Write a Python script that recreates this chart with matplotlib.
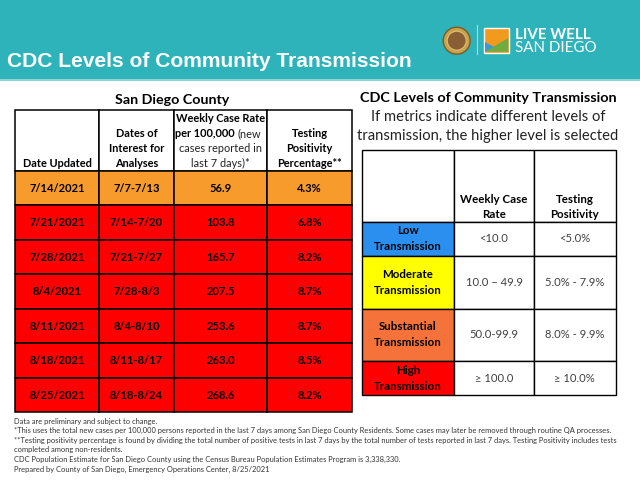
"""San Diego County weekly case rates vs. CDC levels of community transmission (slide recreation)."""

import matplotlib

matplotlib.use("Agg")
import matplotlib.pyplot as plt
from matplotlib.patches import Circle, Polygon, Rectangle
import numpy as np

plt.rcParams["font.family"] = ["Lato", "DejaVu Sans"]

# ---- data -------------------------------------------------------------
DATES_UPDATED = ["7/14/2021", "7/21/2021", "7/28/2021", "8/4/2021", "8/11/2021", "8/18/2021", "8/25/2021"]
DATES_OF_INTEREST = ["7/7-7/13", "7/14-7/20", "7/21-7/27", "7/28-8/3", "8/4-8/10", "8/11-8/17", "8/18-8/24"]
CASE_RATE = [56.9, 103.8, 165.7, 207.5, 253.6, 263.0, 268.6]
POSITIVITY = [4.3, 6.8, 8.2, 8.7, 8.7, 8.5, 8.2]

LEVEL_NAMES = ["Low", "Moderate", "Substantial", "High"]
CASE_RATE_RANGES = ["<10.0", "10.0 \u2013 49.9", "50.0-99.9", "\u2265 100.0"]
POSITIVITY_RANGES = ["<5.0%", "5.0% - 7.9%", "8.0% - 9.9%", "\u2265 10.0%"]
CASE_RATE_CUTS = [10.0, 50.0, 100.0]
POSITIVITY_CUTS = [5.0, 8.0, 10.0]

FOOTNOTES = [
    "Data are preliminary and subject to change.",
    "*This uses the total new cases per 100,000 persons reported in the last 7 days among San Diego County "
    "Residents. Some cases may later be removed through routine QA processes.",
    "**Testing positivity percentage is found by dividing the total number of positive tests in last 7 days by "
    "the total number of tests reported in last 7 days. Testing Positivity includes tests",
    "completed among non-residents.",
    "CDC Population Estimate for San Diego County using the Census Bureau Population Estimates Program is 3,338,330.",
    "Prepared by County of San Diego, Emergency Operations Center, 8/25/2021",
]

# ---- style ------------------------------------------------------------
TEAL = "#2fb3bb"
LEGEND_COLORS = ["#2b8ff0", "#ffff00", "#f5733b", "#ff0000"]
ROW_COLORS = {2: "#f89b2d", 3: "#ff0000"}
LEFT_COLS = [15, 99, 174, 267, 352]
LEFT_ROWS = [110] + list(np.linspace(171, 412.3, len(DATES_UPDATED) + 1))
RIGHT_COLS = [361.7, 454, 534, 615.7]
RIGHT_ROWS = [150, 221.7, 256, 308.7, 361.3, 395]
HEADER_FS = 7.9
BODY_FS = 8.0


def transmission_level(rate, positivity):
    by_rate = int(np.searchsorted(CASE_RATE_CUTS, rate, side="right"))
    by_pos = int(np.searchsorted(POSITIVITY_CUTS, positivity, side="right"))
    return max(by_rate, by_pos)


def cell(ax, x0, x1, y0, y1, face, lw=1.1):
    ax.add_patch(Rectangle((x0, y0), x1 - x0, y1 - y0, facecolor=face, edgecolor="black", linewidth=lw))


fig = plt.figure(figsize=(6.4, 4.8), dpi=100)
ax = fig.add_axes([0, 0, 1, 1])
ax.set_xlim(0, 640)
ax.set_ylim(480, 0)
ax.axis("off")

# ---- header band -------------------------------------------------------
ax.add_patch(Rectangle((0, 0), 640, 78.5, facecolor=TEAL, edgecolor="none"))
ax.add_patch(Rectangle((0, 78.5), 640, 2.2, facecolor="#8fd4d8", edgecolor="none"))
ax.text(7, 67.3, "CDC Levels of Community Transmission", color="white", fontsize=15.1,
        fontweight="bold", family=["Liberation Sans", "DejaVu Sans"], va="baseline", ha="left")

# logos (simplified shapes)
ax.add_patch(Circle((456.7, 40.7), 13.5, facecolor="#c9a24a", edgecolor="#7a5a2a", linewidth=1))
ax.add_patch(Circle((456.7, 40.7), 9.5, facecolor="#8a5f35", edgecolor="#e0c070", linewidth=0.8))
ax.plot([476.7, 476.7], [25, 54], color="#9fdde0", linewidth=0.8)
ax.add_patch(Rectangle((484, 27.7), 25.3, 25, facecolor="#f29a1e", edgecolor="white", linewidth=1))
ax.add_patch(Polygon([(485, 51.7), (508.3, 38), (508.3, 51.7)], closed=True, facecolor="#6fab3e", edgecolor="none"))
ax.add_patch(Polygon([(485, 51.7), (485, 42), (494, 47)], closed=True, facecolor="#3a9ad6", edgecolor="none"))
ax.text(515, 39.3, "LIVE WELL", color="white", fontsize=10.9, fontweight="bold", va="baseline", ha="left")
ax.text(515, 51.9, "SAN DIEGO", color="white", fontsize=10.9, va="baseline", ha="left")

# ---- left table ----------------------------------------------------------
ax.text(172, 104, "San Diego County", fontsize=10.3, fontweight="bold", ha="center", va="baseline")

for c in range(4):
    cell(ax, LEFT_COLS[c], LEFT_COLS[c + 1], LEFT_ROWS[0], LEFT_ROWS[1], "white")
line_y = [118.3, 133.3, 148.3, 163.3]
centers = [(LEFT_COLS[c] + LEFT_COLS[c + 1]) / 2 for c in range(4)]
ax.text(centers[0], line_y[3], "Date Updated", fontsize=HEADER_FS, fontweight="bold", ha="center", va="center")
for i, s in enumerate(["Dates of", "Interest for", "Analyses"]):
    ax.text(centers[1], line_y[i + 1], s, fontsize=HEADER_FS, fontweight="bold", ha="center", va="center")
for i, s in enumerate(["Testing", "Positivity", "Percentage**"]):
    ax.text(centers[3], line_y[i + 1], s, fontsize=HEADER_FS, fontweight="bold", ha="center", va="center")
ax.text(centers[2], line_y[0], "Weekly Case Rate", fontsize=HEADER_FS, fontweight="bold", ha="center", va="center")
ax.text(237.5, line_y[1], "per 100,000 ", fontsize=HEADER_FS, fontweight="bold", ha="right", va="center")
ax.text(237.5, line_y[1], "(new", fontsize=HEADER_FS, ha="left", va="center", color="#222222")
ax.text(centers[2], line_y[2], "cases reported in", fontsize=HEADER_FS, ha="center", va="center", color="#222222")
ax.text(centers[2], line_y[3], "last 7 days)*", fontsize=HEADER_FS, ha="center", va="center", color="#222222")

for r, (d, w, rate, pos) in enumerate(zip(DATES_UPDATED, DATES_OF_INTEREST, CASE_RATE, POSITIVITY)):
    y0, y1 = LEFT_ROWS[r + 1], LEFT_ROWS[r + 2]
    face = ROW_COLORS[transmission_level(rate, pos)]
    values = [d, w, f"{rate:.1f}", f"{pos:.1f}%"]
    for c in range(4):
        cell(ax, LEFT_COLS[c], LEFT_COLS[c + 1], y0, y1, face)
        ax.text(centers[c], (y0 + y1) / 2, values[c], fontsize=BODY_FS, fontweight="bold", ha="center", va="center")

# ---- right table -----------------------------------------------------------
ax.text(488, 98.3, "CDC Levels of Community Transmission", fontsize=10.4, fontweight="bold", ha="center", va="center")
ax.text(488, 117.3, "If metrics indicate different levels of", fontsize=10.6, ha="center", va="center", color="#222222")
ax.text(488, 136, "transmission, the higher level is selected", fontsize=10.6, ha="center", va="center", color="#222222")

rcenters = [(RIGHT_COLS[c] + RIGHT_COLS[c + 1]) / 2 for c in range(3)]
for c in range(3):
    cell(ax, RIGHT_COLS[c], RIGHT_COLS[c + 1], RIGHT_ROWS[0], RIGHT_ROWS[1], "white", lw=1.0)
for i, s in enumerate(["Weekly Case", "Rate"]):
    ax.text(rcenters[1], 199.3 + 15 * i, s, fontsize=8.3, fontweight="bold", ha="center", va="center")
for i, s in enumerate(["Testing", "Positivity"]):
    ax.text(rcenters[2], 199.3 + 15 * i, s, fontsize=8.3, fontweight="bold", ha="center", va="center")

for r, name in enumerate(LEVEL_NAMES):
    y0, y1 = RIGHT_ROWS[r + 1], RIGHT_ROWS[r + 2]
    ym = (y0 + y1) / 2
    cell(ax, RIGHT_COLS[0], RIGHT_COLS[1], y0, y1, LEGEND_COLORS[r], lw=1.0)
    cell(ax, RIGHT_COLS[1], RIGHT_COLS[2], y0, y1, "white", lw=1.0)
    cell(ax, RIGHT_COLS[2], RIGHT_COLS[3], y0, y1, "white", lw=1.0)
    ax.text(rcenters[0], ym - 8, name, fontsize=8.3, fontweight="bold", ha="center", va="center")
    ax.text(rcenters[0], ym + 8, "Transmission", fontsize=8.3, fontweight="bold", ha="center", va="center")
    ax.text(rcenters[1], ym, CASE_RATE_RANGES[r], fontsize=8.1, ha="center", va="center", color="#404040")
    ax.text(rcenters[2], ym, POSITIVITY_RANGES[r], fontsize=8.1, ha="center", va="center", color="#404040")

# ---- footnotes -------------------------------------------------------------
for i, note in enumerate(FOOTNOTES):
    ax.text(14, 421.3 + 9.55 * i, note, fontsize=5.45, ha="left", va="center", color="#333333")

fig.savefig("out.png", dpi=100)
